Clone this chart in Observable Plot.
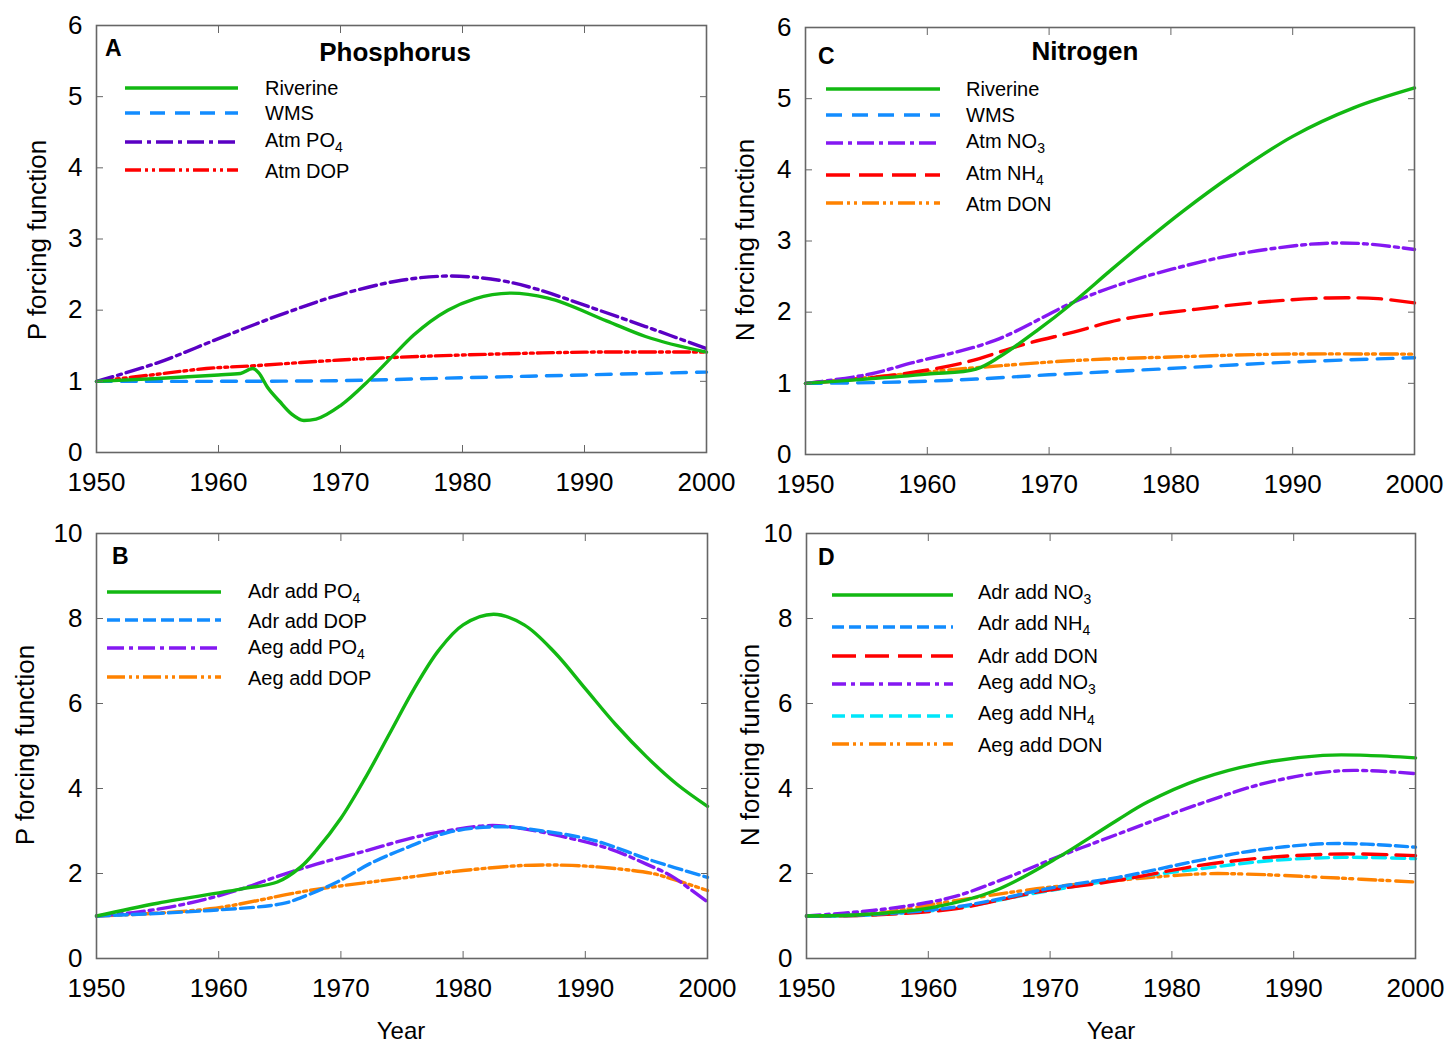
<!DOCTYPE html>
<html>
<head>
<meta charset="utf-8">
<script src="https://cdn.jsdelivr.net/npm/d3@7"></script>
<script src="https://cdn.jsdelivr.net/npm/@observablehq/plot@0.6"></script>
<style>
  html, body { margin: 0; padding: 0; background: #fff; }
  #root { position: relative; width: 1448px; height: 1043px; background: #fff; font-family: "Liberation Sans", Arial, sans-serif; color: #000; overflow: hidden; }
  .pnl { position: absolute; }
  .leg { position: absolute; white-space: nowrap; font-size: 20px; line-height: 1; transform: translateY(-50%); }
  .leg sub { font-size: 14px; vertical-align: -5px; line-height: 0; }
  .ytitle { position: absolute; white-space: nowrap; font-size: 26px; line-height: 1; transform: translate(-50%, -50%) rotate(-90deg); }
  .xtitle { position: absolute; white-space: nowrap; font-size: 24px; line-height: 1; transform: translate(-50%, -50%); }
  .letter { position: absolute; font-weight: bold; font-size: 23px; line-height: 1; }
  .title { position: absolute; font-weight: bold; font-size: 26px; line-height: 1; transform: translate(-50%, -50%); }
</style>
</head>
<body>
<div id="root"></div>
<script>
// ---------- tick labels ----------
const xTicks = [1950, 1960, 1970, 1980, 1990, 2000];
const yTicksTop = [0, 1, 2, 3, 4, 5, 6];
const yTicksBottom = [0, 2, 4, 6, 8, 10];

// ---------- Panel A: Phosphorus ----------
const yrsRiverineP = [1950,1955,1960,1961.8,1962.8,1963.3,1964,1965,1966,1967,1968,1970,1972.3,1974.2,1976,1978.8,1981,1984,1987,1991.8,1995,2000];
const riverineP    = [1.0,1.04,1.09,1.11,1.18,1.12,0.92,0.72,0.54,0.45,0.47,0.66,1.01,1.34,1.65,2.0,2.16,2.24,2.17,1.85,1.63,1.41];
const yrsWmsP = [1950,1960,1970,1980,1990,2000];
const wmsP    = [1.0,1.0,1.01,1.05,1.09,1.13];
const yrsAtmPO4 = [1950,1955,1960,1965,1970,1975,1979,1983,1986,1990,1995,2000];
const atmPO4    = [1.0,1.26,1.6,1.93,2.22,2.42,2.48,2.42,2.3,2.07,1.77,1.46];
const yrsAtmDOP = [1950,1955,1959,1963,1970,1975,1980,1990,2000];
const atmDOP    = [1.0,1.1,1.18,1.22,1.3,1.34,1.37,1.41,1.41];

// ---------- Panel C: Nitrogen ----------
const yrsRiverineN = [1950,1955,1960,1964,1966,1969,1972,1975,1978,1981,1985,1990,1995,2000];
const riverineN    = [1.0,1.06,1.13,1.2,1.38,1.74,2.14,2.58,3.01,3.42,3.92,4.47,4.87,5.15];
const yrsWmsN = [1950,1955.5,1960,1964,1970,1979,1990,2000];
const wmsN    = [1.0,1.01,1.03,1.06,1.12,1.2,1.3,1.36];
const yrsAtmNO3 = [1950,1955,1958.8,1965.5,1972,1976,1980,1985,1990,1993,1996,2000];
const atmNO3    = [1.0,1.12,1.29,1.6,2.14,2.4,2.6,2.8,2.93,2.97,2.96,2.88];
const yrsAtmNH4 = [1950,1957,1963,1968,1972,1976,1982,1988,1993,1997,2000];
const atmNH4    = [1.0,1.11,1.29,1.55,1.72,1.9,2.04,2.15,2.2,2.19,2.13];
const yrsAtmDON = [1950,1955,1960,1964,1972,1980,1989,2000];
const atmDON    = [1.0,1.08,1.16,1.22,1.32,1.37,1.41,1.41];

// ---------- Panel B: P additions ----------
const yrsAdrPO4 = [1950,1955,1961.9,1964.8,1966.7,1968,1970,1972,1974,1976,1978,1980,1982.5,1985,1987.5,1990,1992.5,1995,1997.5,2000];
const adrPO4    = [1.0,1.3,1.64,1.8,2.15,2.55,3.3,4.25,5.3,6.35,7.25,7.85,8.1,7.85,7.2,6.35,5.5,4.75,4.1,3.58];
const yrsAdrDOP = [1950,1959.3,1965.2,1966.8,1969.7,1972.5,1975.5,1978.8,1983,1986.5,1990.7,1995.5,2000];
const adrDOP    = [1.0,1.13,1.29,1.44,1.8,2.25,2.62,2.97,3.1,3.0,2.78,2.3,1.91];
const yrsAegPO4 = [1950,1953,1956,1959,1962,1965,1968,1972,1976,1979,1982.4,1985,1988,1992,1995,1997,1998.5,2000];
const aegPO4    = [1.0,1.08,1.21,1.4,1.65,1.95,2.22,2.53,2.85,3.02,3.13,3.05,2.88,2.58,2.22,1.95,1.65,1.33];
const yrsAegDOP = [1950,1959.3,1967.4,1975.5,1980,1985,1988.9,1992,1995.5,1997,2000];
const aegDOP    = [1.0,1.17,1.6,1.91,2.07,2.19,2.19,2.13,2.0,1.88,1.6];

// ---------- Panel D: N additions ----------
const yrsAdrNO3 = [1950,1955,1960.5,1965.5,1970.9,1973.3,1975.6,1978,1982.3,1987,1992.4,1996,2000];
const adrNO3    = [1.0,1.04,1.21,1.6,2.42,2.85,3.27,3.68,4.22,4.58,4.78,4.78,4.72];
const yrsAdrNH4 = [1950,1955,1962.2,1970.5,1975.6,1982.3,1987,1992.4,1996,2000];
const adrNH4    = [1.0,1.03,1.21,1.68,1.91,2.31,2.55,2.7,2.69,2.62];
const yrsAdrDON = [1950,1955,1962.2,1968.9,1975.6,1982.3,1988,1994,2000];
const adrDON    = [1.0,1.02,1.17,1.56,1.84,2.19,2.38,2.46,2.42];
const yrsAegNO3 = [1950,1955.4,1959,1962.2,1966,1970.9,1975.6,1982.3,1988,1994,2000];
const aegNO3    = [1.0,1.13,1.27,1.46,1.85,2.42,2.93,3.64,4.15,4.42,4.35];
const yrsAegNH4 = [1950,1955,1962.2,1969,1975.6,1982.3,1988,1994,2000];
const aegNH4    = [1.0,1.02,1.19,1.55,1.86,2.11,2.3,2.38,2.35];
const yrsAegDON = [1950,1955.4,1962.2,1968.9,1975.6,1982.3,1985.7,1992.4,2000];
const aegDON    = [1.0,1.05,1.36,1.64,1.84,1.99,1.99,1.91,1.8];

// ---------- styles ----------
const GREEN = "#12b812", BLUE = "#128cff", PURPLE_A = "#5a00c4", PURPLE = "#8418f2",
      RED = "#ff0000", ORANGE = "#ff8200", CYAN = "#00e6fa";

const panels = [
  { id: "A", left: 0, top: 0, w: 724, h: 521, m: [25, 18, 69, 96], ydom: [0, 6], yticks: yTicksTop,
    ylabel: "P forcing function", ylabX: 37, ylabY: 240, title: "Phosphorus", titleX: 395, titleY: 52,
    letterX: 105, letterY: 37, legLine: [125, 238], legText: 265,
    series: [
      { html: "Riverine", yrs: yrsRiverineP, vals: riverineP, color: GREEN, dash: null, ly: 88, ty: 88, curve: "monotone-x" },
      { html: "WMS", yrs: yrsWmsP, vals: wmsP, color: BLUE, dash: "15,10", ly: 113, ty: 113 },
      { html: "Atm PO<sub>4</sub>", yrs: yrsAtmPO4, vals: atmPO4, color: PURPLE_A, dash: "17,5,4,5", ly: 142, ty: 140 },
      { html: "Atm DOP", yrs: yrsAtmDOP, vals: atmDOP, color: RED, dash: "16,4,3,4,3,4", ly: 170, ty: 171 }
    ] },
  { id: "C", left: 724, top: 0, w: 724, h: 521, m: [27, 34, 67, 81], ydom: [0, 6], yticks: yTicksTop,
    ylabel: "N forcing function", ylabX: 745, ylabY: 240, title: "Nitrogen", titleX: 1085, titleY: 51,
    letterX: 818, letterY: 45, legLine: [826, 940], legText: 966,
    series: [
      { html: "Riverine", yrs: yrsRiverineN, vals: riverineN, color: GREEN, dash: null, ly: 89, ty: 89 },
      { html: "WMS", yrs: yrsWmsN, vals: wmsN, color: BLUE, dash: "16,10", ly: 115, ty: 115 },
      { html: "Atm NO<sub>3</sub>", yrs: yrsAtmNO3, vals: atmNO3, color: PURPLE, dash: "17,5,4,5", ly: 143, ty: 141 },
      { html: "Atm NH<sub>4</sub>", yrs: yrsAtmNH4, vals: atmNH4, color: RED, dash: "24,9", ly: 175, ty: 173 },
      { html: "Atm DON", yrs: yrsAtmDON, vals: atmDON, color: ORANGE, dash: "17,4,3,4,3,5", ly: 203, ty: 204 }
    ] },
  { id: "B", left: 0, top: 521, w: 724, h: 522, m: [12, 17, 85, 96], ydom: [0, 10], yticks: yTicksBottom,
    ylabel: "P forcing function", ylabX: 25, ylabY: 745, xlabel: "Year", xlabX: 401, xlabY: 1031,
    letterX: 112, letterY: 545, legLine: [107, 221], legText: 248,
    series: [
      { html: "Adr add PO<sub>4</sub>", yrs: yrsAdrPO4, vals: adrPO4, color: GREEN, dash: null, ly: 592, ty: 591 },
      { html: "Adr add DOP", yrs: yrsAdrDOP, vals: adrDOP, color: BLUE, dash: "13,5", ly: 620, ty: 621 },
      { html: "Aeg add PO<sub>4</sub>", yrs: yrsAegPO4, vals: aegPO4, color: PURPLE, dash: "17,5,4,5", ly: 648, ty: 647 },
      { html: "Aeg add DOP", yrs: yrsAegDOP, vals: aegDOP, color: ORANGE, dash: "18,4,3,4,3,4", ly: 677, ty: 678 }
    ] },
  { id: "D", left: 724, top: 521, w: 724, h: 522, m: [12, 33, 85, 82], ydom: [0, 10], yticks: yTicksBottom,
    ylabel: "N forcing function", ylabX: 750, ylabY: 745, xlabel: "Year", xlabX: 1111, xlabY: 1031,
    letterX: 818, letterY: 546, legLine: [832, 953], legText: 978,
    series: [
      { html: "Adr add NO<sub>3</sub>", yrs: yrsAdrNO3, vals: adrNO3, color: GREEN, dash: null, ly: 595, ty: 592 },
      { html: "Adr add NH<sub>4</sub>", yrs: yrsAdrNH4, vals: adrNH4, color: BLUE, dash: "12,5", ly: 627, ty: 623 },
      { html: "Adr add DON", yrs: yrsAdrDON, vals: adrDON, color: RED, dash: "24,9", ly: 656, ty: 656 },
      { html: "Aeg add NO<sub>3</sub>", yrs: yrsAegNO3, vals: aegNO3, color: PURPLE, dash: "14,5,4,5", ly: 684, ty: 682 },
      { html: "Aeg add NH<sub>4</sub>", yrs: yrsAegNH4, vals: aegNH4, color: CYAN, dash: "13,6", ly: 716, ty: 713 },
      { html: "Aeg add DON", yrs: yrsAegDON, vals: aegDON, color: ORANGE, dash: "17,4,3,4,3,6", ly: 744, ty: 745 }
    ] }
];

const root = document.getElementById("root");
const FONT = "'Liberation Sans', Arial, sans-serif";
const FRAME = "#666";

for (const p of panels) {
  const [mt, mr, mb, ml] = p.m;
  const lineMarks = p.series.slice().reverse().map(s =>
    Plot.line(s.yrs.map((yr, i) => ({ year: yr, value: s.vals[i] })), {
      x: "year", y: "value", stroke: s.color, strokeWidth: 3.4,
      strokeDasharray: s.dash || undefined, curve: s.curve || "catmull-rom"
    })
  );
  const chart = Plot.plot({
    width: p.w, height: p.h,
    marginTop: mt, marginRight: mr, marginBottom: mb, marginLeft: ml,
    style: { fontFamily: FONT, background: "transparent", overflow: "visible" },
    x: { domain: [1950, 2000] },
    y: { domain: p.ydom },
    marks: [
      ...lineMarks,
      Plot.frame({ stroke: FRAME, strokeWidth: 1.6 }),
      Plot.axisX({ anchor: "bottom", ticks: xTicks, tickSize: -7, tickPadding: 27, tickFormat: d => String(d), fontSize: 26, stroke: FRAME, fill: "#000", label: null }),
      Plot.axisX({ anchor: "top", ticks: xTicks, tickSize: -7, tickFormat: () => "", stroke: FRAME, label: null }),
      Plot.axisY({ anchor: "left", ticks: p.yticks, tickSize: -7, tickPadding: 21, tickFormat: d => String(d), fontSize: 26, stroke: FRAME, fill: "#000", label: null }),
      Plot.axisY({ anchor: "right", ticks: p.yticks, tickSize: -7, tickFormat: () => "", stroke: FRAME, label: null })
    ]
  });
  chart.classList.add("pnl");
  chart.style.left = p.left + "px";
  chart.style.top = p.top + "px";
  root.appendChild(chart);

  const L = document.createElement("div");
  L.className = "letter"; L.textContent = p.id;
  L.style.left = p.letterX + "px"; L.style.top = p.letterY + "px";
  root.appendChild(L);

  if (p.title) {
    const T = document.createElement("div");
    T.className = "title"; T.textContent = p.title;
    T.style.left = p.titleX + "px"; T.style.top = p.titleY + "px";
    root.appendChild(T);
  }

  const Y = document.createElement("div");
  Y.className = "ytitle"; Y.textContent = p.ylabel;
  Y.style.left = p.ylabX + "px"; Y.style.top = p.ylabY + "px";
  root.appendChild(Y);

  if (p.xlabel) {
    const X = document.createElement("div");
    X.className = "xtitle"; X.textContent = p.xlabel;
    X.style.left = p.xlabX + "px"; X.style.top = p.xlabY + "px";
    root.appendChild(X);
  }

  for (const s of p.series) {
    const ns = "http://www.w3.org/2000/svg";
    const sv = document.createElementNS(ns, "svg");
    const [x1, x2] = p.legLine;
    sv.setAttribute("width", x2 - x1 + 4);
    sv.setAttribute("height", 10);
    sv.style.position = "absolute";
    sv.style.left = (x1 - 2) + "px";
    sv.style.top = (s.ly - 5) + "px";
    const ln = document.createElementNS(ns, "line");
    ln.setAttribute("x1", 2); ln.setAttribute("x2", x2 - x1 + 2);
    ln.setAttribute("y1", 5); ln.setAttribute("y2", 5);
    ln.setAttribute("stroke", s.color);
    ln.setAttribute("stroke-width", 3.4);
    if (s.dash) ln.setAttribute("stroke-dasharray", s.dash);
    sv.appendChild(ln);
    root.appendChild(sv);
    const t = document.createElement("div");
    t.className = "leg"; t.innerHTML = s.html;
    t.style.left = p.legText + "px"; t.style.top = s.ty + "px";
    root.appendChild(t);
  }
}
</script>
</body>
</html>
